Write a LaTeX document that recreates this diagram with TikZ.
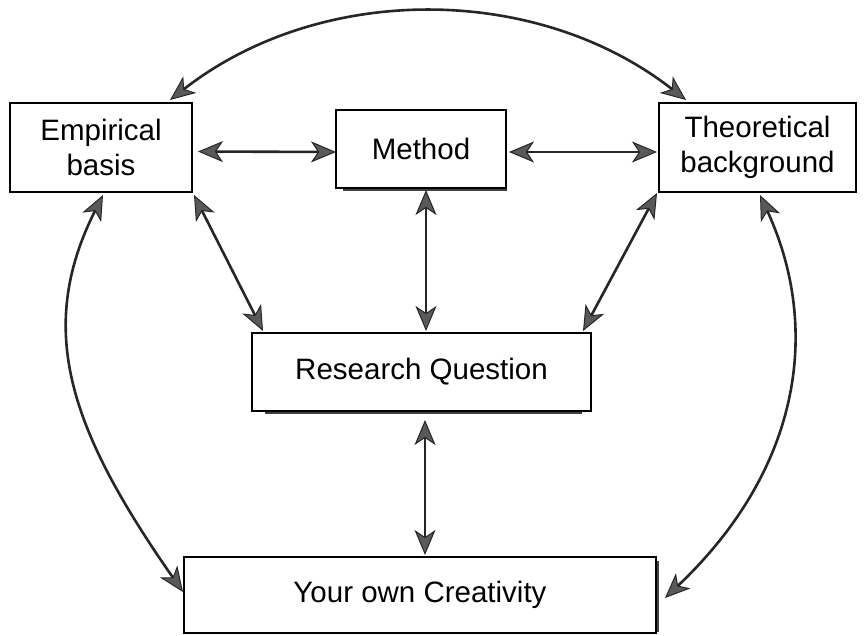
\documentclass[tikz,border=0pt]{standalone}
\usepackage{fontspec}
\setmainfont{Liberation Sans}
\usetikzlibrary{arrows.meta}
\begin{document}
\begin{tikzpicture}[x=1pt,y=-1pt,
  box/.style={draw=black, line width=2pt, fill=white, outer sep=0pt, inner sep=0pt,
    align=center, font=\fontsize{29.5}{35}\selectfont},
  arr/.style={line width=2.6pt, draw=black!85, {Stealth[length=25pt,width=21pt,inset=7pt,fill=black!65,line width=1pt]}-{Stealth[length=25pt,width=21pt,inset=7pt,fill=black!65,line width=1pt]}},
  shadowline/.style={line width=2pt, draw=black!75}
]
\fill[white] (0,0) rectangle (866,635);
\useasboundingbox (0,0) rectangle (866,635);

\node[box, minimum width=182pt, minimum height=89pt] (emp) at (101,147.5) {Empirical\\basis};
\node[box, minimum width=170pt, minimum height=78pt] (meth) at (421,149) {Method};
\node[box, minimum width=197pt, minimum height=89pt] (theo) at (757.5,147.5) {Theoretical\\background};
\node[box, minimum width=339pt, minimum height=78pt] (rq) at (421.5,372) {Research Question};
\node[box, minimum width=472pt, minimum height=76pt] (cre) at (420,595) {Your own Creativity};

% shadows
\draw[shadowline] ([xshift=7pt,yshift=-1.8pt]meth.south west) -- ([xshift=1pt,yshift=-1.8pt]meth.south east);
\draw[shadowline] ([xshift=13pt,yshift=-1.8pt]rq.south west) -- ([xshift=-9pt,yshift=-1.8pt]rq.south east);
\draw[shadowline] ([xshift=1.8pt,yshift=-4pt]cre.north east) -- ([xshift=1.8pt,yshift=1pt]cre.south east);

% straight connectors
\draw[arr] ([xshift=6pt,yshift=-4pt]emp.east) -- ([yshift=-3pt]meth.west);
\draw[arr] ([xshift=3pt,yshift=-3pt]meth.east) -- ([xshift=-2pt,yshift=-4.5pt]theo.west);
\draw[arr] ([xshift=5pt,yshift=-2pt]meth.south) -- ([xshift=4.5pt,yshift=2pt]rq.north);
\draw[arr] ([xshift=2pt,yshift=-3pt]emp.south east) -- ([xshift=11pt,yshift=2pt]rq.north west);
\draw[arr] ([xshift=-2pt,yshift=-1pt]theo.south west) -- ([xshift=-8pt,yshift=2pt]rq.north east);
\draw[arr] ([xshift=3.5pt,yshift=-9pt]rq.south) -- ([xshift=5pt,yshift=2pt]cre.north);

% curved connectors
\draw[arr] ([xshift=160pt,yshift=3pt]emp.north west) .. controls +(150,-117) and +(-150,-117) .. ([xshift=27pt,yshift=3pt]theo.north west);
\draw[arr] ([xshift=2pt,yshift=-3pt]emp.south) .. controls +(-68,135) and +(-113,-162) .. ([xshift=-1pt,yshift=3pt]cre.west);
\draw[arr] ([xshift=2.5pt,yshift=-3pt]theo.south) .. controls +(62,135) and +(135,-128) .. ([xshift=9pt,yshift=-3pt]cre.east);
\end{tikzpicture}
\end{document}
